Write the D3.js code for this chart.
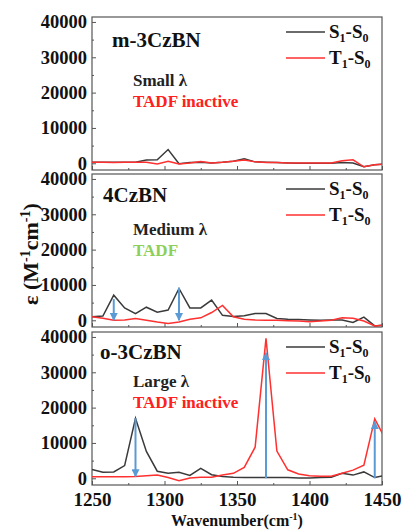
<!DOCTYPE html>
<html>
<head>
<meta charset="utf-8">
<script src="https://cdn.jsdelivr.net/npm/d3@7"></script>
<style>
body { margin: 0; background: #fff; }
text { font-family: "Liberation Serif", "Times New Roman", serif; font-weight: bold; }
</style>
</head>
<body>
<div id="chart"></div>
<script>
// wavenumber grid (cm-1)
var wavenumbers = [1250, 1257.5, 1265, 1272.5, 1280, 1287.5, 1295, 1302.5, 1310, 1317.5,
  1325, 1332.5, 1340, 1347.5, 1355, 1362.5, 1370, 1377.5, 1385, 1392.5,
  1400, 1407.5, 1415, 1422.5, 1430, 1437.5, 1445, 1452.5];

var m3S1 = [300, 300, 300, 300, 300, 900, 1000, 3900, -100, 200, 300, 100, 300, 600, 1300, 400,
  300, 200, 100, 0, 0, 0, 0, 200, 100, -1000, -400, -200];
var m3T1 = [300, 300, 200, 300, 300, 300, -200, 600, -200, 100, 500, 100, 300, 600, 900, 400,
  200, 200, 100, 100, 100, 100, 100, 700, 1000, -1000, -400, -200];

var cz4S1 = [1000, 1200, 7100, 3500, 1900, 3700, 2300, 2900, 9000, 3500, 3500, 5700, 1400, 1100,
  1300, 1900, 1900, 500, 300, 200, 100, 0, 100, 100, -600, 900, -1600, -1300];
var cz4T1 = [1000, 600, 0, 100, 500, 0, -500, -900, -500, 300, 700, 2200, 4200, 1000,
  300, 100, 0, 0, -100, -200, -400, -200, 0, 700, 600, -200, -1600, -1300];

var o3S1 = [2500, 1700, 1800, 3600, 17000, 7600, 2000, 1400, 1700, 800, 2800, 1000, 500, 300,
  200, 200, 200, 200, 200, 100, 100, 200, 300, 1400, 900, 1800, 200, 900];
var o3T1 = [400, 400, 400, 400, 500, 700, 900, 200, -700, 100, 300, 300, 900, 1400,
  3100, 8800, 39600, 7700, 2400, 1200, 700, 600, 600, 1400, 2300, 3700, 16800, 11000];

// arrows: [wavenumber, from, to]
var cz4Arrows = [[1265, 6000, 0], [1310, 9200, 0]];
var o3Arrows = [[1280, 17000, 500], [1370, 0, 35500], [1445, 0, 16000]];

var xTicks = [1250, 1300, 1350, 1400, 1450];
var xMinor = [1275, 1325, 1375, 1425];
var yTicks = [0, 10000, 20000, 30000, 40000];
var yMinor = [5000, 15000, 25000, 35000];

var panels = [
  { name: "m-3CzBN", s1: m3S1, t1: m3T1, top: 17, nameX: 112, nameY: 30, noteY: 69,
    l1: "Small λ", l2: "TADF inactive", c2: "#ff2020", arrows: [] },
  { name: "4CzBN", s1: cz4S1, t1: cz4T1, top: 174, nameX: 103, nameY: 28, noteY: 61,
    l1: "Medium λ", l2: "TADF", c2: "#8cd05a", arrows: cz4Arrows },
  { name: "o-3CzBN", s1: o3S1, t1: o3T1, top: 332, nameX: 100, nameY: 27, noteY: 55,
    l1: "Large λ", l2: "TADF inactive", c2: "#ff2020", arrows: o3Arrows }
];

var W = 402, H = 532, ph = 153;
var left = 92, right = 382;
var serif = "'Liberation Serif','Times New Roman',serif";

var svg = d3.select("#chart").append("svg").attr("width", W).attr("height", H);

var defs = svg.append("defs");
defs.append("marker").attr("id", "ah").attr("viewBox", "0 0 10 10")
  .attr("refX", 9).attr("refY", 5).attr("markerWidth", 4).attr("markerHeight", 4)
  .attr("orient", "auto-start-reverse")
  .append("path").attr("d", "M0,0L10,5L0,10z").attr("fill", "#5b9bd5");

var x = d3.scaleLinear().domain([1250, 1450]).range([left, right]);

panels.forEach(function(p, k) {
  var y = d3.scaleLinear().domain([-1900, 41400]).range([p.top + ph, p.top]);
  var g = svg.append("g");

  defs.append("clipPath").attr("id", "clip" + k).append("rect")
    .attr("x", left).attr("y", p.top).attr("width", right - left).attr("height", ph);

  // axes, ticks inside
  var ya = g.append("g").attr("transform", "translate(" + left + ",0)")
    .call(d3.axisLeft(y).tickValues(yTicks).tickSize(-4).tickPadding(5).tickFormat(d3.format("d")));
  ya.select(".domain").remove();
  ya.selectAll("line").attr("stroke", "#555");
  ya.selectAll("text").attr("font-size", 18.5).attr("fill", "#111").attr("font-family", serif);
  var ym = g.append("g").attr("transform", "translate(" + left + ",0)")
    .call(d3.axisLeft(y).tickValues(yMinor).tickSize(-2).tickFormat(""));
  ym.select(".domain").remove();
  ym.selectAll("line").attr("stroke", "#555");

  var last = k === panels.length - 1;
  var xa = g.append("g").attr("transform", "translate(0," + (p.top + ph) + ")")
    .call(d3.axisBottom(x).tickValues(xTicks).tickSize(-4).tickPadding(8)
      .tickFormat(last ? d3.format("d") : ""));
  xa.select(".domain").remove();
  xa.selectAll("line").attr("stroke", "#555");
  xa.selectAll("text").attr("font-size", 19).attr("fill", "#111").attr("font-family", serif);
  var xm = g.append("g").attr("transform", "translate(0," + (p.top + ph) + ")")
    .call(d3.axisBottom(x).tickValues(xMinor).tickSize(-2).tickFormat(""));
  xm.select(".domain").remove();
  xm.selectAll("line").attr("stroke", "#555");

  // frame
  g.append("rect").attr("x", left).attr("y", p.top).attr("width", right - left).attr("height", ph)
    .attr("fill", "none").attr("stroke", "#555").attr("stroke-width", 1.2);

  var line = d3.line().x(function(d, i) { return x(wavenumbers[i]); }).y(function(d) { return y(d); });
  var plot = g.append("g").attr("clip-path", "url(#clip" + k + ")");
  plot.append("path").datum(p.s1).attr("d", line).attr("fill", "none")
    .attr("stroke", "#3a3a3a").attr("stroke-width", 1.5);
  plot.append("path").datum(p.t1).attr("d", line).attr("fill", "none")
    .attr("stroke", "#ff3030").attr("stroke-width", 1.5);

  // arrows
  p.arrows.forEach(function(a) {
    g.append("line").attr("x1", x(a[0])).attr("x2", x(a[0]))
      .attr("y1", y(a[1])).attr("y2", y(a[2]))
      .attr("stroke", "#5b9bd5").attr("stroke-width", 2)
      .attr("marker-end", "url(#ah)");
  });

  // titles and notes
  g.append("text").attr("x", p.nameX).attr("y", p.top + p.nameY).attr("font-size", 21).attr("fill", "#111").text(p.name);
  g.append("text").attr("x", 133).attr("y", p.top + p.noteY).attr("font-size", 17).attr("fill", "#222").text(p.l1);
  g.append("text").attr("x", 133).attr("y", p.top + p.noteY + 21).attr("font-size", 17).attr("fill", p.c2).text(p.l2);

  // legend
  [["S", "#3a3a3a", 15], ["T", "#ff3030", 41]].forEach(function(l) {
    var ly = p.top + l[2];
    g.append("line").attr("x1", 286).attr("x2", 325).attr("y1", ly).attr("y2", ly)
      .attr("stroke", l[1]).attr("stroke-width", 1.5);
    var t = g.append("text").attr("x", 329).attr("y", ly + 6).attr("font-size", 19).attr("fill", "#111");
    t.append("tspan").text(l[0]);
    t.append("tspan").attr("font-size", 12).attr("dy", 4).text("1");
    t.append("tspan").attr("dy", -4).text("-S");
    t.append("tspan").attr("font-size", 12).attr("dy", 4).text("0");
  });
});

// axis titles
var xt = svg.append("text").attr("x", (left + right) / 2).attr("y", 526).attr("text-anchor", "middle")
  .attr("font-size", 16).attr("fill", "#111");
xt.append("tspan").text("Wavenumber(cm");
xt.append("tspan").attr("font-size", 10).attr("dy", -6).text("-1");
xt.append("tspan").attr("dy", 6).text(")");

var yt = svg.append("text").attr("transform", "translate(38,254) rotate(-90)").attr("text-anchor", "middle")
  .attr("font-size", 22).attr("fill", "#111");
yt.append("tspan").text("ε (M");
yt.append("tspan").attr("font-size", 14).attr("dy", -8).text("-1");
yt.append("tspan").attr("dy", 8).text("cm");
yt.append("tspan").attr("font-size", 14).attr("dy", -8).text("-1");
yt.append("tspan").attr("dy", 8).text(")");
</script>
</body>
</html>
